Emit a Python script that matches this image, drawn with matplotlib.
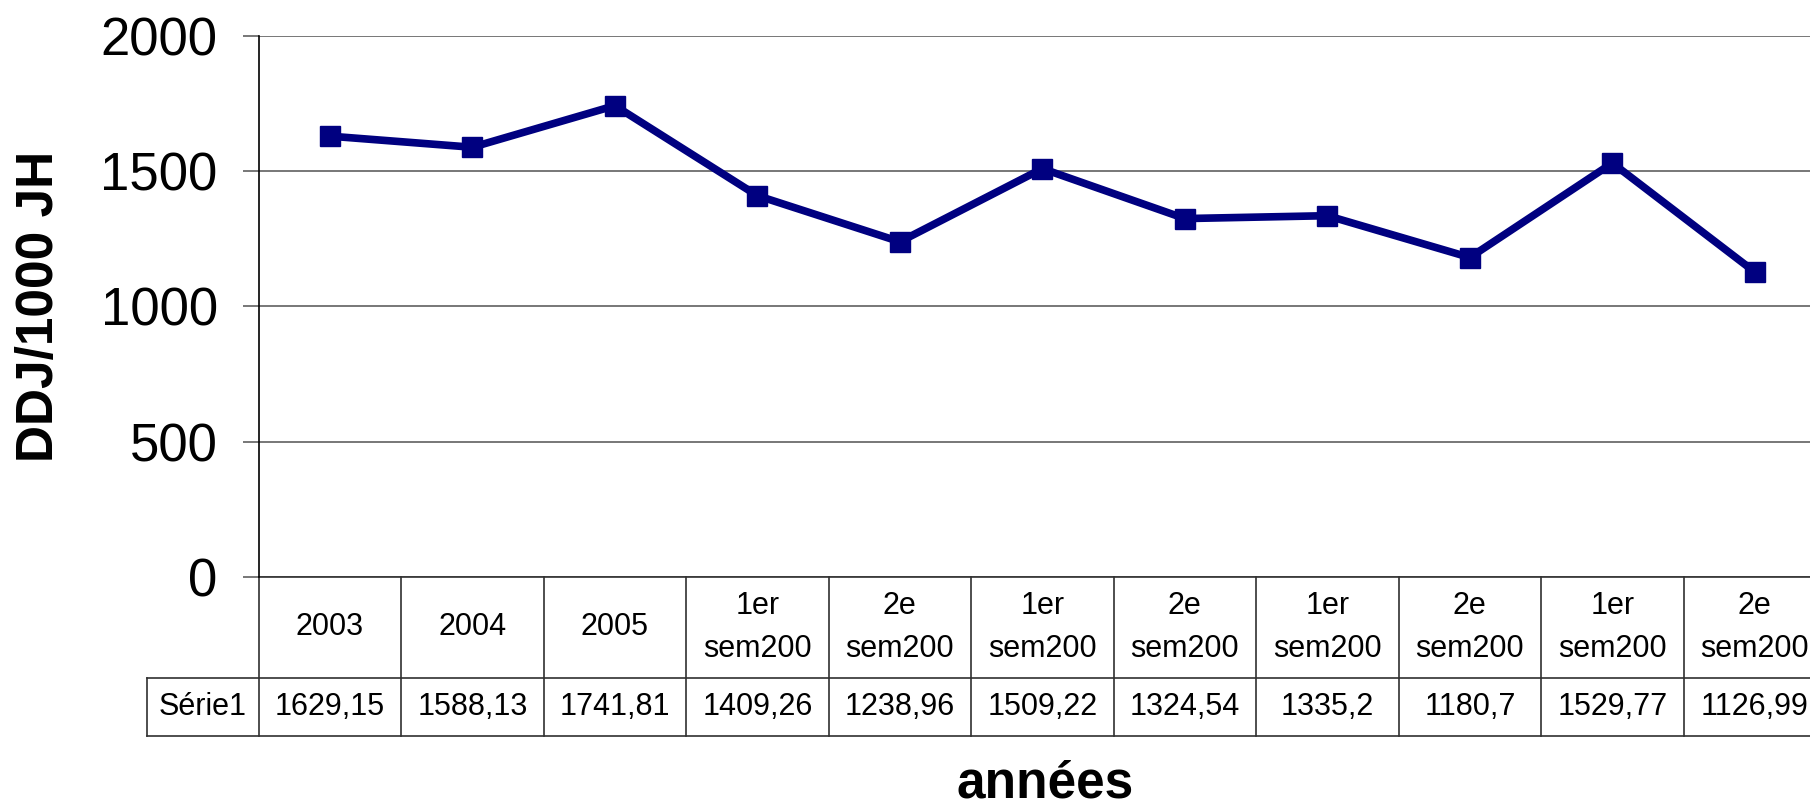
import matplotlib.pyplot as plt
import matplotlib.transforms as mtransforms

plt.rcParams['font.family'] = ['Liberation Sans', 'DejaVu Sans']

categories = ["2003", "2004", "2005",
              "1er\nsem200", "2e\nsem200",
              "1er\nsem200", "2e\nsem200",
              "1er\nsem200", "2e\nsem200",
              "1er\nsem200", "2e\nsem200"]
values = [1629.15, 1588.13, 1741.81, 1409.26, 1238.96, 1509.22,
          1324.54, 1335.2, 1180.7, 1529.77, 1126.99]
series_name = "Série1"
yticks = [0, 500, 1000, 1500, 2000]

W, H = 1810, 808
fig = plt.figure(figsize=(W / 100, H / 100), dpi=100)

# plot area (pixel based, runs past the right edge like the original)
left, top, bottom, col_w = 258.6, 35.8, 577.0, 142.5
ax = fig.add_axes([left / W, (H - bottom) / H,
                   len(categories) * col_w / W, (bottom - top) / H])

x = list(range(len(categories)))
ax.plot(x, values, color="#000080", lw=5.5, marker="s", markersize=14,
        markeredgecolor="#000080", zorder=3)

ax.set_xlim(-0.5, len(categories) - 0.5)
ax.set_ylim(0, 2000)
ax.set_yticks(yticks)
ax.set_xticks([])
ax.yaxis.grid(True, color="#606060", lw=1.2)
ax.set_axisbelow(True)
for s in ["top", "right", "bottom"]:
    ax.spines[s].set_visible(False)
ax.spines["left"].set_color("black")
ax.spines["left"].set_linewidth(1.2)
ax.tick_params(axis="y", length=11.5, width=1.2, color="#606060",
               labelsize=38, pad=18)

# data table under the axis
tr = mtransforms.blended_transform_factory(ax.transData, ax.transAxes)
ah = bottom - top
y_hdr = -(677.6 - bottom) / ah
y_dat = -(736.0 - bottom) / ah
x_lab = -0.5 - (left - 146.6) / col_w
xr = len(categories) - 0.5
lc = dict(color="#303030", lw=1.2, clip_on=False, transform=tr)

ax.plot([-0.5, xr], [0, 0], **lc)
ax.plot([x_lab, xr], [y_hdr, y_hdr], **lc)
ax.plot([x_lab, xr], [y_dat, y_dat], **lc)
ax.plot([x_lab, x_lab], [y_hdr, y_dat], **lc)
for k in range(len(categories) + 1):
    ax.plot([k - 0.5, k - 0.5], [0, y_dat], **lc)

for i, (c, v) in enumerate(zip(categories, values)):
    ax.text(i, y_hdr / 2, c, transform=tr, ha="center", va="center",
            fontsize=22, linespacing=1.55, clip_on=False)
    ax.text(i, (y_hdr + y_dat) / 2, str(v).replace(".", ","), transform=tr,
            ha="center", va="center", fontsize=22, clip_on=False)
ax.text((x_lab - 0.5) / 2, (y_hdr + y_dat) / 2, series_name, transform=tr,
        ha="center", va="center", fontsize=22, clip_on=False)

fig.text(1045 / W, 1 - 798 / H, "années", ha="center", va="baseline",
         fontsize=37, fontweight="bold")
fig.text(40 / W, 1 - 306 / H, "DDJ/1000 JH", ha="center", va="center",
         rotation=90, fontsize=37, fontweight="bold")

fig.savefig("out.png", dpi=100)
